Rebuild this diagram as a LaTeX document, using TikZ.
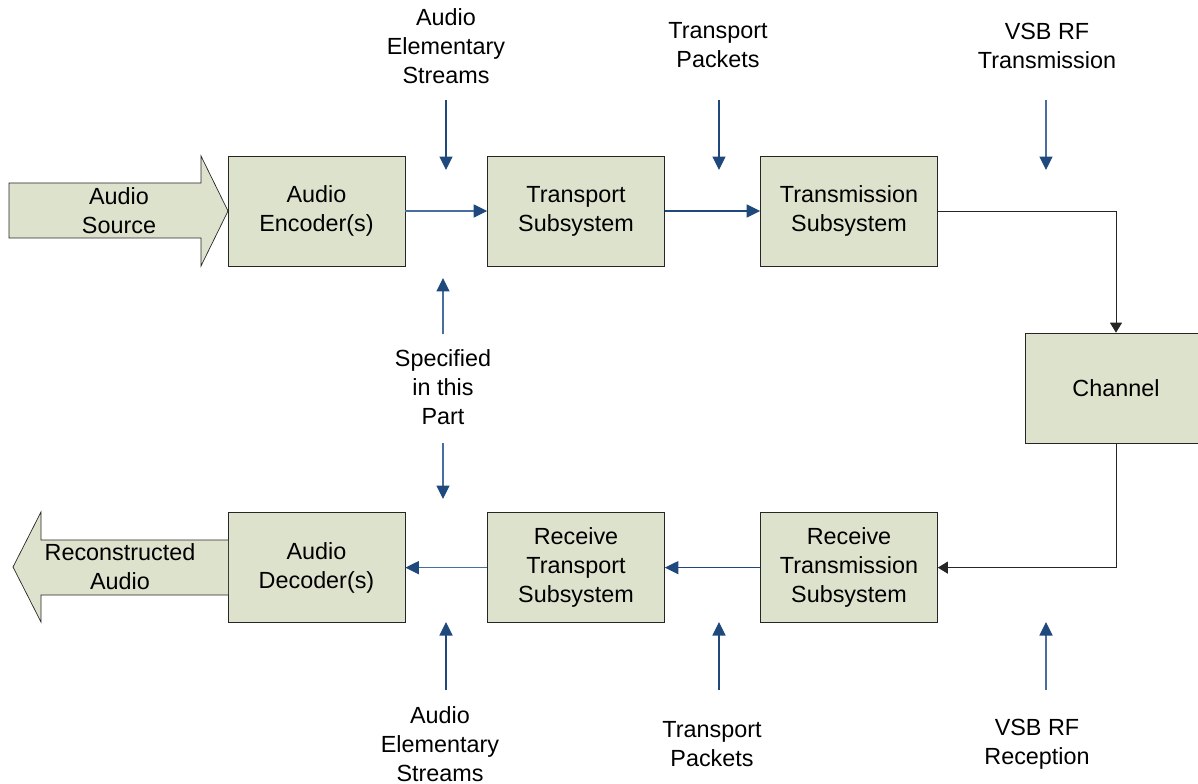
\documentclass[tikz,border=0pt]{standalone}
\usepackage{fontspec}
\setmainfont{Liberation Sans}
\usetikzlibrary{positioning,arrows.meta}
\definecolor{BoxFill}{RGB}{221,226,204}
\definecolor{ArrowBlue}{RGB}{31,73,125}
\definecolor{LineBlue}{RGB}{72,110,160}

\begin{document}
\begin{tikzpicture}[x=0.02cm, y=-0.02cm, font=\fontsize{13.3}{16.5}\selectfont, every node/.style={align=center}]
\tikzset{
  blockbox/.style={draw=black!85, fill=BoxFill, minimum width=3.54cm, minimum height=2.2cm, inner sep=2pt},
  bigarrow/.style={draw=black!85, fill=BoxFill},
  lbl/.style={inner sep=1pt},
  barr/.style={-{Triangle[length=0.27cm, width=0.26cm, color=ArrowBlue]}, LineBlue, line width=0.7pt},
  karr/.style={-{Triangle[length=0.2cm, width=0.24cm]}, black!85, line width=0.55pt}
}
  \useasboundingbox (0,0) rectangle (1198,784);

  % sender row
  \node[blockbox] (enc) at (316.5,211) {Audio\\Encoder(s)};
  \node[blockbox] (tsp) at (576,211) {Transport\\Subsystem};
  \node[blockbox] (txs) at (849,211) {Transmission\\Subsystem};
  \node[blockbox, minimum width=3.64cm] (chan) at (1116,388) {Channel};

  % receiver row
  \node[blockbox, below=4.92cm of enc] (dec) {Audio\\Decoder(s)};
  \node[blockbox, below=4.92cm of tsp] (rtp) {Receive\\Transport\\Subsystem};
  \node[blockbox, below=4.92cm of txs] (rtx) {Receive\\Transmission\\Subsystem};

  % source and output arrows
  \draw[bigarrow] (9,183) -- (201,183) -- (201,156) -- (228,211) -- (201,266) -- (201,238) -- (9,238) -- cycle;
  \node (src) at (119,211) {Audio\\Source};
  \draw[bigarrow] (228,540) -- (41,540) -- (41,512) -- (13,567) -- (41,622) -- (41,595) -- (228,595);
  \node (out) at (120,566.5) {Reconstructed\\Audio};

  % main path
  \draw[barr] (enc) -- (tsp);
  \draw[barr, ArrowBlue] (tsp) -- (txs);
  \draw[karr] (txs.east) -| (chan.north);
  \draw[karr] (chan.south) |- (rtx.east);
  \draw[barr, ArrowBlue] (rtx) -- (rtp);
  \draw[barr] (rtp) -- (dec);

  % labels
  \node[lbl] (aesTx) at (446,46) {Audio\\Elementary\\Streams};
  \node[lbl] (pktTx) at (718,45.5) {Transport\\Packets};
  \node[lbl] (rfTx) at (1047,45.5) {VSB RF\\Transmission};
  \node[lbl] (spec) at (443,387) {Specified\\in this\\Part};
  \node[lbl] (aesRx) at (440,744) {Audio\\Elementary\\Streams};
  \node[lbl] (pktRx) at (712,744.5) {Transport\\Packets};
  \node[lbl] (rfRx) at (1037,744.5) {VSB RF\\Reception};

  % interface pointers
  \coordinate (aesTxA) at (446,100);  \coordinate (aesTxB) at (446,170);
  \coordinate (pktTxA) at (719,100);  \coordinate (pktTxB) at (719,170);
  \coordinate (rfTxA) at (1046,100);  \coordinate (rfTxB) at (1046,170);
  \coordinate (specUpA) at (443,334); \coordinate (specUpB) at (443,278);
  \coordinate (specDnA) at (443,443); \coordinate (specDnB) at (443,499);
  \coordinate (aesRxA) at (446,690);  \coordinate (aesRxB) at (446,622);
  \coordinate (pktRxA) at (719,690);  \coordinate (pktRxB) at (719,622);
  \coordinate (rfRxA) at (1046,690);  \coordinate (rfRxB) at (1046,622);

  \draw[barr, ArrowBlue] (aesTxA) -- (aesTxB);
  \draw[barr, ArrowBlue] (pktTxA) -- (pktTxB);
  \draw[barr] (rfTxA) -- (rfTxB);
  \draw[barr] (specUpA) -- (specUpB);
  \draw[barr] (specDnA) -- (specDnB);
  \draw[barr, ArrowBlue] (aesRxA) -- (aesRxB);
  \draw[barr, ArrowBlue] (pktRxA) -- (pktRxB);
  \draw[barr] (rfRxA) -- (rfRxB);
\end{tikzpicture}
\end{document}
